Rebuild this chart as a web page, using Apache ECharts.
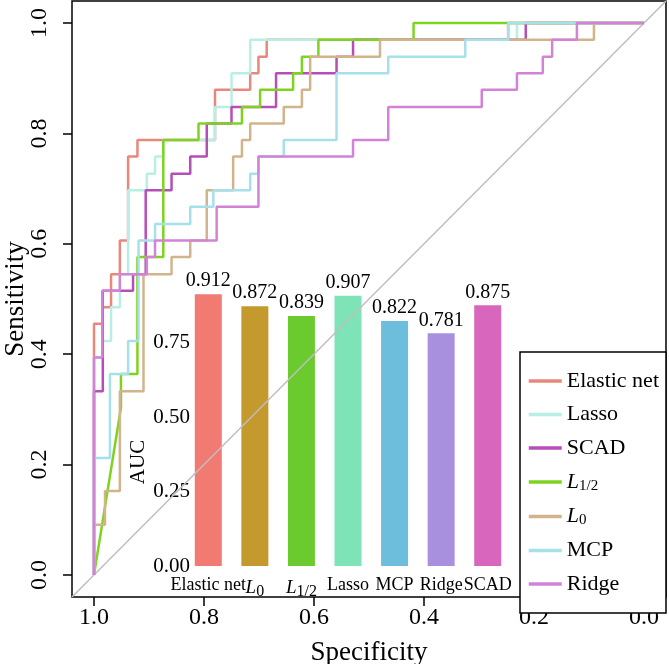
<!DOCTYPE html>
<html>
<head>
<meta charset="utf-8">
<script src="https://cdn.jsdelivr.net/npm/echarts@6/dist/echarts.min.js"></script>
<style>
    html, body { margin: 0; padding: 0; background: #fff; }
    #main { width: 669px; height: 664px; }
</style>
</head>
<body>
<div id="main"></div>
<script>
// ROC corners: [specificity, sensitivity]
const elasticNet = [[1,0],[1,.455],[.985,.455],[.985,.485],[.969,.485],[.969,.545],[.953,.545],[.953,.606],[.938,.606],[.938,.758],[.921,.758],[.921,.788],[.780,.788],[.780,.879],[.716,.879],[.716,.909],[.701,.909],[.701,.939],[.686,.939],[.686,.970],[.247,.970],[.247,1],[0,1]];
const lasso = [[1,0],[1,.394],[.985,.394],[.985,.424],[.969,.424],[.969,.485],[.953,.485],[.953,.545],[.938,.545],[.938,.697],[.904,.697],[.904,.727],[.889,.727],[.889,.758],[.874,.758],[.874,.788],[.780,.788],[.780,.848],[.750,.848],[.750,.909],[.716,.909],[.716,.970],[.231,.970],[.231,1],[0,1]];
const scad = [[1,0],[1,.333],[.984,.333],[.984,.515],[.929,.515],[.929,.545],[.906,.545],[.906,.697],[.859,.697],[.859,.727],[.825,.727],[.825,.758],[.795,.758],[.795,.818],[.750,.818],[.750,.848],[.669,.848],[.669,.909],[.559,.909],[.559,.939],[.529,.939],[.529,.970],[.215,.970],[.215,1],[0,1]];
const lHalf = [[1,0],[.951,.303],[.951,.364],[.921,.364],[.921,.576],[.874,.576],[.874,.788],[.810,.788],[.810,.818],[.731,.818],[.731,.848],[.698,.848],[.698,.879],[.638,.879],[.638,.909],[.622,.909],[.622,.939],[.592,.939],[.592,.970],[.419,.970],[.419,1],[0,1]];
const lZero = [[1,0],[1,.091],[.980,.091],[.980,.152],[.953,.152],[.953,.333],[.910,.333],[.910,.545],[.859,.545],[.859,.576],[.825,.576],[.825,.606],[.795,.606],[.795,.697],[.747,.697],[.747,.758],[.731,.758],[.731,.788],[.716,.788],[.716,.818],[.655,.818],[.655,.848],[.622,.848],[.622,.879],[.607,.879],[.607,.939],[.480,.939],[.480,.970],[.091,.970],[.091,1],[0,1]];
const mcp = [[1,0],[1,.212],[.971,.212],[.971,.364],[.938,.364],[.938,.424],[.919,.424],[.919,.606],[.889,.606],[.889,.636],[.825,.636],[.825,.667],[.783,.667],[.783,.697],[.716,.697],[.716,.727],[.701,.727],[.701,.758],[.655,.758],[.655,.788],[.559,.788],[.559,.909],[.465,.909],[.465,.939],[.325,.939],[.325,.970],[.247,.970],[.247,1],[0,1]];
const ridge = [[1,0],[1,.394],[.985,.394],[.985,.515],[.953,.515],[.953,.545],[.904,.545],[.904,.576],[.889,.576],[.889,.606],[.777,.606],[.777,.667],[.701,.667],[.701,.758],[.529,.758],[.529,.788],[.465,.788],[.465,.848],[.295,.848],[.295,.879],[.231,.879],[.231,.909],[.184,.909],[.184,.939],[.167,.939],[.167,.970],[.122,.970],[.122,1],[0,1]];

const rocNames = ['Elastic net', 'Lasso', 'SCAD', 'L1/2', 'L0', 'MCP', 'Ridge'];
const rocData = [elasticNet, lasso, scad, lHalf, lZero, mcp, ridge];
const rocColors = ['#E8877B', '#B7EFE4', '#B64EB8', '#7ED321', '#D2B48C', '#A6E0EA', '#D283D8'];

// inset bar chart
const aucModels = ['Elastic net', 'L0', 'L1/2', 'Lasso', 'MCP', 'Ridge', 'SCAD'];
const aucValues = [0.912, 0.872, 0.839, 0.907, 0.822, 0.781, 0.875];
const barColors = ['#F17A73', '#C49A2E', '#6BCB2E', '#7EE3B7', '#6CBEDC', '#A990DE', '#D966BD'];

const mainTicks = [0, 0.2, 0.4, 0.6, 0.8, 1.0];
const aucTicks = [0, 0.25, 0.5, 0.75];

const FONT = 'Liberation Serif';

function richName(n) {
    if (n === 'L1/2') return '{i|L}{s|1/2}';
    if (n === 'L0') return '{i|L}{s|0}';
    return n;
}

const chart = echarts.init(document.getElementById('main'));

let series = [
    {
        name: 'ref',
        type: 'line',
        xAxisIndex: 0, yAxisIndex: 0,
        data: [[1.04, -0.04], [-0.04, 1.04]],
        symbol: 'none',
        silent: true,
        lineStyle: { color: '#BEBEBE', width: 1.5 }
    }
];
rocNames.forEach((n, i) => {
    series.push({
        name: n,
        type: 'line',
        xAxisIndex: 0, yAxisIndex: 0,
        data: rocData[i],
        symbol: 'none',
        color: rocColors[i],
        lineStyle: { color: rocColors[i], width: 2.5 }
    });
});
series.push({
    name: 'AUC',
    type: 'bar',
    xAxisIndex: 1, yAxisIndex: 1,
    barWidth: 27,
    data: aucValues.map((v, i) => ({ value: v, itemStyle: { color: barColors[i] } })),
    label: {
        show: true, position: 'top', distance: 3,
        fontFamily: FONT, fontSize: 20, color: '#000',
        formatter: p => p.value.toFixed(3)
    }
});

const option = {
    animation: false,
    backgroundColor: '#fff',
    grid: [
        { left: 72, right: 3, top: 1, bottom: 67, show: true, borderColor: '#000', borderWidth: 1.5, outerBoundsMode: 'none' },
        { left: 185, width: 326, top: 268, height: 298, outerBoundsMode: 'none' }
    ],
    xAxis: [
        {
            type: 'value', gridIndex: 0, inverse: true, min: -0.04, max: 1.04,
            splitLine: { show: false },
            axisLine: { show: false, onZero: false },
            axisTick: { show: true, customValues: mainTicks, length: 9, lineStyle: { color: '#000', width: 1.5 } },
            axisLabel: { customValues: mainTicks, formatter: v => v.toFixed(1), fontFamily: FONT, fontSize: 24, color: '#000', margin: 9 },
            name: 'Specificity', nameLocation: 'middle', nameGap: 42,
            nameTextStyle: { fontFamily: FONT, fontSize: 27, color: '#000' }
        },
        {
            type: 'category', gridIndex: 1, data: aucModels,
            axisLine: { show: false }, axisTick: { show: false },
            axisLabel: {
                interval: 0, margin: 10, fontFamily: FONT, fontSize: 18, color: '#000',
                formatter: richName,
                rich: {
                    i: { fontStyle: 'italic', fontFamily: FONT, fontSize: 19, color: '#000' },
                    s: { fontFamily: FONT, fontSize: 16, color: '#000', padding: [8, 0, 0, 0] }
                }
            }
        }
    ],
    yAxis: [
        {
            type: 'value', gridIndex: 0, min: -0.04, max: 1.04,
            splitLine: { show: false },
            axisLine: { show: false, onZero: false },
            axisTick: { show: true, customValues: mainTicks, length: 9, lineStyle: { color: '#000', width: 1.5 } },
            axisLabel: { customValues: mainTicks, rotate: 90, formatter: v => v.toFixed(1), fontFamily: FONT, fontSize: 24, color: '#000', margin: 20 },
            name: 'Sensitivity', nameLocation: 'middle', nameGap: 43, nameMoveOverlap: false,
            nameTextStyle: { fontFamily: FONT, fontSize: 27, color: '#000' }
        },
        {
            type: 'value', gridIndex: 1, min: 0, max: 1,
            splitLine: { show: false }, axisLine: { show: false }, axisTick: { show: false },
            axisLabel: { customValues: aucTicks, formatter: v => v.toFixed(2), fontFamily: FONT, fontSize: 21, color: '#000', margin: -5 },
            name: 'AUC', nameLocation: 'middle', nameGap: 32,
            nameTextStyle: { fontFamily: FONT, fontSize: 21, color: '#000', padding: [0, 90, 0, 0] }
        }
    ],
    legend: {
        orient: 'vertical', left: 520, top: 352,
        padding: [18, 7, 18, 7], itemGap: 11.5, itemWidth: 33, itemHeight: 20,
        backgroundColor: '#fff', borderColor: '#000', borderWidth: 1.5, borderRadius: 0,
        itemStyle: { color: 'transparent', borderColor: 'transparent', borderWidth: 0 },
        lineStyle: { width: 3.5 },
        data: rocNames,
        formatter: richName,
        textStyle: {
            fontFamily: FONT, fontSize: 22, lineHeight: 20, color: '#000',
            rich: {
                i: { fontStyle: 'italic', fontFamily: FONT, fontSize: 22, lineHeight: 20, color: '#000' },
                s: { fontFamily: FONT, fontSize: 15, lineHeight: 12, color: '#000', padding: [8, 0, 0, 0] }
            }
        }
    },
    series: series
};

chart.setOption(option);
</script>
</body>
</html>
